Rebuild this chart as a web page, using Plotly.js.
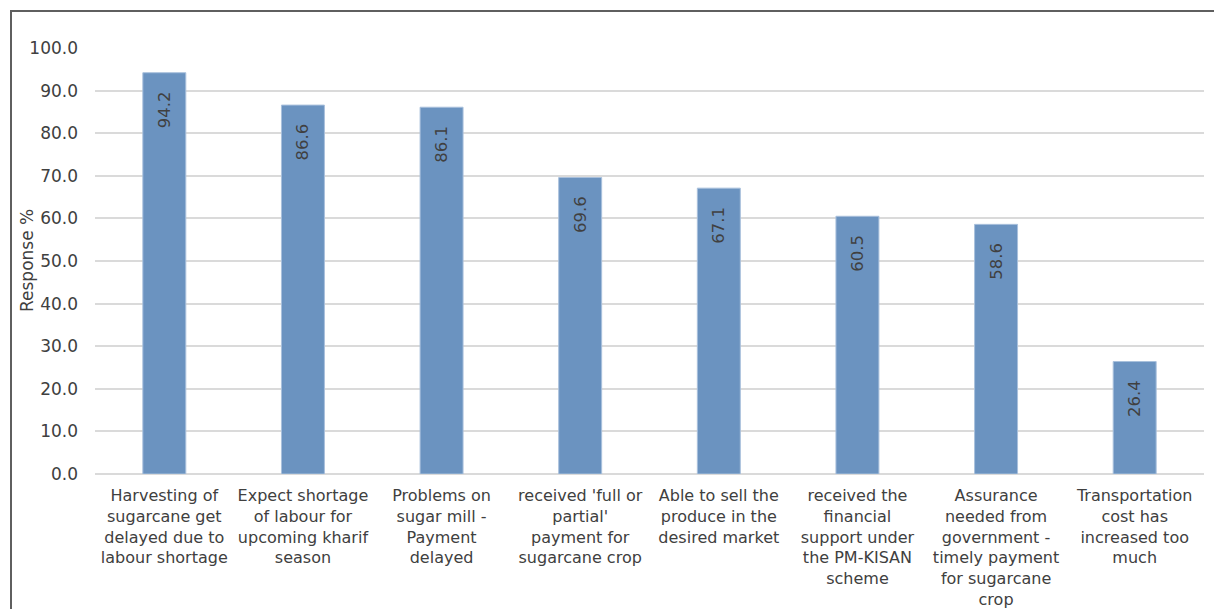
<!DOCTYPE html>
<html>
<head>
<meta charset="utf-8">
<script src="https://cdn.plot.ly/plotly-3.0.1.min.js"></script>
<style>
html,body{margin:0;padding:0;overflow:hidden;background:#fff;}
#chart{width:1214px;height:609px;}
#frame{position:absolute;left:10px;top:10px;width:1300px;height:800px;border-left:2px solid #5f5f5f;border-top:2px solid #5f5f5f;pointer-events:none;}
</style>
</head>
<body>
<div id="chart"></div>
<div id="frame"></div>
<script>
const categories = [
  "Harvesting of<br>sugarcane get<br>delayed due to<br>labour shortage",
  "Expect shortage<br>of labour for<br>upcoming kharif<br>season",
  "Problems on<br>sugar mill -<br>Payment<br>delayed",
  "received 'full or<br>partial'<br>payment for<br>sugarcane crop",
  "Able to sell the<br>produce in the<br>desired market",
  "received the<br>financial<br>support under<br>the PM-KISAN<br>scheme",
  "Assurance<br>needed from<br>government -<br>timely payment<br>for sugarcane<br>crop",
  "Transportation<br>cost has<br>increased too<br>much"
];
const responses = [94.2, 86.6, 86.1, 69.6, 67.1, 60.5, 58.6, 26.4];
const yTitle = "Response %";

const font = "DejaVu Sans, Verdana, sans-serif";
const pad = "\u00a0\u00a0\u00a0";

const trace = {
  type: "bar",
  x: categories,
  y: responses,
  text: responses.map(v => v.toFixed(1) + pad),
  textposition: "inside",
  insidetextanchor: "end",
  textangle: -90,
  textfont: {family: font, size: 16.5, color: "#404040"},
  marker: {color: "#6b93c0", line: {color: "#a9c0dc", width: 1}},
  hoverinfo: "x+y",
  cliponaxis: false
};

const layout = {
  width: 1214, height: 609,
  margin: {l: 95, r: 10, t: 48, b: 135},
  paper_bgcolor: "#ffffff",
  plot_bgcolor: "#ffffff",
  bargap: 0.69,
  showlegend: false,
  font: {family: font, size: 16, color: "#404040"},
  xaxis: {
    type: "category",
    tickfont: {family: font, size: 16, color: "#404040"},
    showgrid: false,
    showline: false,
    ticks: "",
    ticklabelstandoff: 10,
    automargin: false
  },
  yaxis: {
    range: [0, 100],
    dtick: 10,
    tick0: 0,
    tickformat: ".1f",
    tickfont: {family: font, size: 17, color: "#404040"},
    showgrid: true,
    gridcolor: "#dadada",
    gridwidth: 2,
    zeroline: true,
    zerolinecolor: "#dadada",
    zerolinewidth: 2,
    showline: false,
    ticks: "",
    ticklabelstandoff: 16,
    automargin: false
  },
  annotations: [{
    text: yTitle,
    xref: "paper", yref: "paper",
    x: 0, y: 0.5,
    xanchor: "center", yanchor: "middle",
    xshift: -68,
    textangle: -90,
    showarrow: false,
    font: {family: font, size: 17, color: "#404040"}
  }]
};

Plotly.newPlot("chart", [trace], layout, {displayModeBar: false, staticPlot: true});
</script>
</body>
</html>
